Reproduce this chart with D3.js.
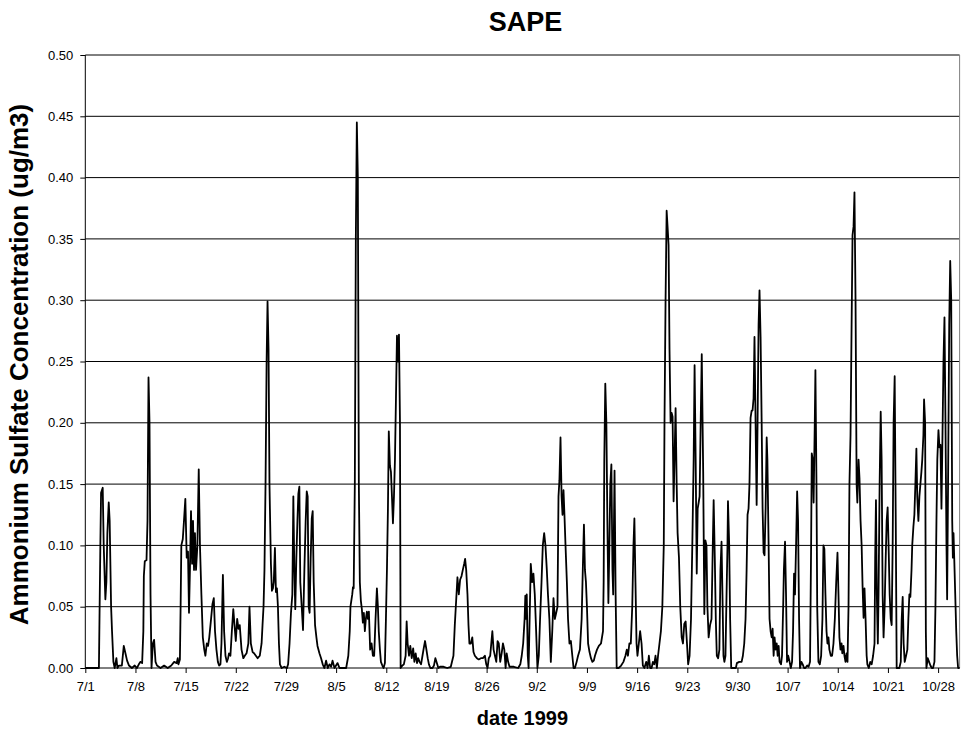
<!DOCTYPE html>
<html>
<head>
<meta charset="utf-8">
<script src="https://cdn.jsdelivr.net/npm/d3@7"></script>
<style>
  html, body { margin: 0; padding: 0; background: #fff; }
  svg { display: block; font-family: "Liberation Sans", Arial, sans-serif; }
</style>
</head>
<body>
<svg id="chart" width="963" height="731"></svg>
<script>
// Ammonium sulfate concentration at SAPE, July–October 1999.
// Time is given in days since 1999-07-01 00:00 (UTC).
const startDate = "1999-07-01";
const endDate = "1999-10-31";

const dayOffset = [
  0, 1.9, 2.1, 2.2, 2.43, 2.57, 2.8, 2.94, 3.08, 3.27, 3.4, 3.6, 3.73, 3.92, 4.1, 4.34, 4.48, 4.7, 5.1, 5.37,
  5.6, 5.83, 6.1, 6.5, 6.9, 7.2, 7.47, 7.7, 7.93, 8.1, 8.17, 8.3, 8.54, 8.68, 8.82, 8.96, 9.1, 9.24, 9.43, 9.6,
  9.8, 10.0, 10.5, 11.0, 11.5, 12.0, 12.4, 12.75, 12.9, 13.0, 13.2, 13.3, 13.4, 13.6, 13.77, 13.96, 14.15, 14.33, 14.47, 14.6,
  14.75, 14.9, 15.03, 15.17, 15.3, 15.45, 15.64, 15.83, 16.0, 16.2, 16.4, 16.6, 16.76, 16.95, 17.13, 17.3, 17.55, 17.74, 17.93, 18.1,
  18.3, 18.5, 18.67, 18.86, 19.0, 19.2, 19.37, 19.56, 19.75, 19.93, 20.05, 20.25, 20.45, 20.65, 20.82, 21.0, 21.19, 21.38, 21.55, 21.8,
  22.05, 22.25, 22.5, 22.75, 22.91, 23.1, 23.35, 23.55, 23.8, 24.05, 24.35, 24.6, 24.73, 24.87, 25.0, 25.15, 25.3, 25.43, 25.57, 25.7,
  25.9, 26.04, 26.18, 26.3, 26.46, 26.6, 26.74, 26.88, 27.02, 27.16, 27.4, 27.77, 28.14, 28.3, 28.5, 28.7, 28.89, 29.03, 29.17, 29.3,
  29.45, 29.6, 29.73, 29.87, 30.0, 30.2, 30.38, 30.57, 30.75, 30.9, 31.03, 31.17, 31.3, 31.45, 31.6, 31.73, 31.87, 32.06, 32.25, 32.4,
  32.67, 32.9, 33.13, 33.37, 33.6, 33.83, 34.07, 34.3, 34.5, 34.77, 35.2, 35.47, 35.9, 36.4, 36.7, 36.9, 37.0, 37.25, 37.35, 37.45,
  37.61, 37.75, 37.89, 38.03, 38.17, 38.31, 38.45, 38.59, 38.73, 38.87, 39.01, 39.15, 39.29, 39.43, 39.57, 39.75, 39.95, 40.13, 40.31, 40.5,
  40.69, 40.83, 40.95, 41.11, 41.25, 41.45, 41.62, 41.81, 41.95, 42.09, 42.23, 42.35, 42.51, 42.65, 42.79, 42.93, 43.07, 43.21, 43.35, 43.49,
  43.63, 43.77, 43.91, 44.0, 44.25, 44.45, 44.7, 44.84, 44.98, 45.17, 45.35, 45.55, 45.75, 45.92, 46.1, 46.29, 46.45, 46.65, 46.85, 47.05,
  47.22, 47.41, 47.6, 47.78, 47.95, 48.15, 48.45, 48.65, 48.85, 49.27, 49.5, 50.0, 50.5, 51.0, 51.37, 51.56, 51.75, 51.93, 52.12, 52.3,
  52.5, 52.68, 52.87, 53.0, 53.15, 53.33, 53.47, 53.6, 53.8, 54.0, 54.17, 54.36, 54.64, 54.9, 55.2, 55.48, 55.76, 55.95, 56.13, 56.3,
  56.5, 56.8, 56.97, 57.16, 57.35, 57.53, 57.7, 57.9, 58.1, 58.28, 58.47, 58.65, 58.8, 59.0, 59.2, 59.8, 60.4, 60.7, 60.9, 61.1,
  61.3, 61.4, 61.5, 61.6, 61.74, 61.86, 62.02, 62.16, 62.36, 62.53, 62.72, 62.91, 63.09, 63.28, 63.46, 63.66, 63.84, 64.03, 64.21, 64.4,
  64.56, 64.76, 64.96, 65.16, 65.33, 65.52, 65.71, 65.89, 66.03, 66.16, 66.31, 66.46, 66.59, 66.73, 66.86, 67.01, 67.2, 67.36, 67.56, 67.76,
  67.96, 68.13, 68.32, 68.56, 68.76, 69.02, 69.26, 69.46, 69.58, 69.72, 69.86, 70.0, 70.16, 70.36, 70.56, 70.76, 70.96, 71.12, 71.4, 71.66,
  71.96, 72.24, 72.33, 72.42, 72.56, 72.71, 72.85, 72.99, 73.13, 73.26, 73.41, 73.56, 73.66, 73.85, 74.0, 74.15, 74.42, 74.77, 75.09, 75.37,
  75.56, 75.72, 75.92, 76.12, 76.32, 76.49, 76.62, 76.77, 76.92, 77.05, 77.24, 77.42, 77.62, 77.8, 78.02, 78.27, 78.46, 78.64, 78.82, 79.02,
  79.2, 79.39, 79.57, 79.76, 79.92, 80.12, 80.32, 80.52, 80.72, 80.82, 80.97, 81.12, 81.25, 81.39, 81.52, 81.67, 81.82, 81.95, 82.09, 82.22,
  82.37, 82.52, 82.65, 82.84, 83.02, 83.22, 83.4, 83.58, 83.77, 83.96, 84.12, 84.32, 84.52, 84.7, 84.89, 85.02, 85.17, 85.32, 85.45, 85.59,
  85.72, 85.87, 86.02, 86.22, 86.38, 86.53, 86.68, 86.81, 86.98, 87.18, 87.38, 87.56, 87.68, 87.84, 87.98, 88.12, 88.31, 88.48, 88.63, 88.78,
  88.91, 89.05, 89.18, 89.33, 89.48, 89.61, 89.68, 89.85, 89.98, 90.13, 90.36, 90.78, 90.92, 91.25, 91.58, 91.76, 91.95, 92.13, 92.28, 92.41,
  92.55, 92.68, 92.83, 92.98, 93.11, 93.25, 93.38, 93.53, 93.68, 93.81, 93.95, 94.08, 94.23, 94.38, 94.51, 94.65, 94.78, 94.93, 95.08, 95.18,
  95.35, 95.48, 95.63, 95.78, 95.91, 96.05, 96.18, 96.33, 96.48, 96.61, 96.75, 96.88, 97.08, 97.22, 97.38, 97.48, 97.64, 97.78, 97.92, 98.08,
  98.28, 98.45, 98.62, 98.76, 98.9, 99.03, 99.18, 99.33, 99.46, 99.6, 99.73, 99.93, 100.11, 100.3, 100.48, 100.73, 100.93, 101.13, 101.28, 101.37,
  101.51, 101.63, 101.79, 101.88, 102.03, 102.13, 102.3, 102.49, 102.68, 102.86, 103.0, 103.13, 103.28, 103.43, 103.56, 103.7, 103.83, 104.03, 104.21, 104.4,
  104.59, 104.78, 104.96, 105.1, 105.23, 105.38, 105.53, 105.63, 105.8, 105.93, 106.08, 106.23, 106.36, 106.5, 106.63, 106.78, 106.93, 107.06, 107.2, 107.33,
  107.48, 107.63, 107.73, 107.9, 108.03, 108.18, 108.33, 108.46, 108.6, 108.73, 108.88, 109.03, 109.13, 109.33, 109.53, 109.73, 109.93, 110.13, 110.22, 110.33,
  110.45, 110.59, 110.69, 110.84, 110.99, 111.12, 111.26, 111.39, 111.54, 111.69, 111.82, 111.96, 112.09, 112.24, 112.39, 112.52, 112.66, 112.79, 112.94, 113.09,
  113.22, 113.39, 113.59, 113.79, 113.92, 114.06, 114.19, 114.34, 114.53, 114.71, 114.85, 114.99, 115.13, 115.29, 115.39, 115.55, 115.69, 115.83, 115.97, 116.09,
  116.25, 116.39, 116.53, 116.67, 116.79, 116.95, 117.04, 117.19, 117.29, 117.37, 117.56, 117.74, 117.93, 118.12, 118.29, 118.49, 118.63, 118.77, 118.89, 119.05,
  119.19, 119.33, 119.47, 119.59, 119.75, 119.89, 120.03, 120.17, 120.26, 120.39, 120.55, 120.69, 120.83, 120.97, 121.06, 121.15, 121.25, 121.39, 121.53, 121.66,
  121.79, 122.0
];

const sulfate = [
  0, 0, 0.10, 0.143, 0.147, 0.10, 0.056, 0.07, 0.11, 0.135, 0.12, 0.05, 0.03, 0.005, 0, 0.008, 0, 0.002, 0.002, 0.018,
  0.012, 0.006, 0.002, 0, 0.002, 0, 0.003, 0.005, 0.004, 0.03, 0.075, 0.087, 0.088, 0.12, 0.237, 0.20, 0.06, 0, 0.02, 0.023,
  0.005, 0.002, 0, 0.002, 0, 0.002, 0.005, 0.004, 0.008, 0.003, 0.007, 0.05, 0.10, 0.105, 0.12, 0.138, 0.09, 0.095, 0.045, 0.08,
  0.128, 0.085, 0.12, 0.08, 0.11, 0.08, 0.10, 0.162, 0.10, 0.06, 0.025, 0.015, 0.01, 0.02, 0.018, 0.025, 0.04, 0.052, 0.057, 0.03,
  0.015, 0.005, 0.002, 0.003, 0.02, 0.076, 0.03, 0.01, 0.005, 0.008, 0.012, 0.01, 0.03, 0.048, 0.035, 0.022, 0.04, 0.032, 0.035, 0.015,
  0.008, 0.01, 0.012, 0.02, 0.05, 0.02, 0.013, 0.012, 0.01, 0.008, 0.01, 0.02, 0.035, 0.05, 0.08, 0.15, 0.25, 0.299, 0.26, 0.15,
  0.085, 0.063, 0.065, 0.07, 0.098, 0.062, 0.065, 0.05, 0.02, 0.003, 0, 0.001, 0, 0.003, 0.02, 0.045, 0.06, 0.14, 0.08, 0.048,
  0.09, 0.12, 0.142, 0.148, 0.07, 0.05, 0.031, 0.08, 0.12, 0.144, 0.14, 0.05, 0.045, 0.09, 0.122, 0.128, 0.07, 0.035, 0.025, 0.018,
  0.012, 0.008, 0.003, 0, 0.006, 0, 0.003, 0.001, 0.006, 0, 0.004, 0, 0, 0, 0.01, 0.03, 0.05, 0.06, 0.066, 0.065,
  0.15, 0.35, 0.445, 0.40, 0.15, 0.07, 0.055, 0.048, 0.037, 0.045, 0.03, 0.04, 0.046, 0.04, 0.046, 0.015, 0.02, 0.01, 0.01, 0.04,
  0.065, 0.05, 0.03, 0.015, 0.005, 0.002, 0, 0.004, 0.04, 0.08, 0.13, 0.193, 0.165, 0.16, 0.14, 0.118, 0.14, 0.17, 0.22, 0.271,
  0.25, 0.272, 0.20, 0, 0.002, 0.003, 0.01, 0.038, 0.02, 0.01, 0.018, 0.008, 0.016, 0.005, 0.012, 0.004, 0.008, 0.005, 0.003, 0.01,
  0.016, 0.022, 0.015, 0.008, 0.003, 0, 0, 0.002, 0.008, 0, 0.001, 0.001, 0, 0.001, 0.01, 0.035, 0.055, 0.074, 0.06, 0.072,
  0.075, 0.08, 0.085, 0.089, 0.08, 0.06, 0.035, 0.02, 0.02, 0.025, 0.013, 0.01, 0.008, 0.007, 0.008, 0.008, 0.01, 0.003, 0, 0.008,
  0.01, 0.03, 0.015, 0.01, 0.005, 0.022, 0.02, 0.005, 0.012, 0.02, 0.015, 0, 0.012, 0.005, 0.001, 0.001, 0, 0.003, 0.01, 0.02,
  0.04, 0.059, 0.04, 0.06, 0.01, 0, 0.045, 0.085, 0.07, 0.077, 0.06, 0.03, 0, 0.01, 0.04, 0.07, 0.1, 0.11, 0.1, 0.08,
  0.06, 0.04, 0.005, 0.03, 0.057, 0.04, 0.045, 0.05, 0.14, 0.153, 0.188, 0.14, 0.125, 0.145, 0.125, 0.1, 0.07, 0.04, 0.02, 0.022,
  0.01, 0, 0, 0.005, 0.01, 0.015, 0.04, 0.09, 0.117, 0.08, 0.07, 0.05, 0.02, 0.013, 0.008, 0.005, 0.006, 0.01, 0.015, 0.018,
  0.02, 0.03, 0.07, 0.17, 0.232, 0.2, 0.12, 0.053, 0.1, 0.15, 0.166, 0.08, 0.06, 0.161, 0.06, 0, 0, 0.002, 0.005, 0.01,
  0.015, 0.01, 0.02, 0.02, 0.05, 0.1, 0.122, 0.07, 0.02, 0.01, 0.02, 0.03, 0.02, 0.002, 0, 0.005, 0, 0.01, 0, 0,
  0.005, 0.003, 0.01, 0, 0.01, 0.02, 0.03, 0.05, 0.1, 0.2, 0.3, 0.373, 0.36, 0.345, 0.26, 0.2, 0.208, 0.205, 0.136, 0.17,
  0.212, 0.15, 0.11, 0.09, 0.05, 0.025, 0.02, 0.036, 0.038, 0.02, 0.003, 0.01, 0.04, 0.1, 0.17, 0.247, 0.17, 0.077, 0.13, 0.135,
  0.14, 0.2, 0.256, 0.16, 0.044, 0.104, 0.1, 0.05, 0.025, 0.035, 0.04, 0.1, 0.137, 0.09, 0.04, 0.01, 0.008, 0.015, 0.08, 0.103,
  0.06, 0.01, 0.005, 0.01, 0.06, 0.1, 0.136, 0.1, 0.04, 0, 0, 0, 0.004, 0.005, 0.005, 0.01, 0.02, 0.04, 0.08, 0.125,
  0.13, 0.15, 0.204, 0.21, 0.21, 0.22, 0.27, 0.2, 0.133, 0.2, 0.28, 0.308, 0.27, 0.2, 0.13, 0.094, 0.092, 0.13, 0.188, 0.17,
  0.1, 0.04, 0.03, 0.025, 0.032, 0.01, 0.025, 0.015, 0.02, 0.01, 0.018, 0.005, 0.003, 0.01, 0.05, 0.08, 0.103, 0.06, 0.005, 0.01,
  0.005, 0, 0.005, 0.03, 0.077, 0.06, 0.1, 0.144, 0.12, 0.04, 0, 0.005, 0.003, 0, 0, 0.002, 0.001, 0.005, 0.1, 0.175,
  0.17, 0.135, 0.2, 0.243, 0.15, 0.05, 0.005, 0.003, 0.01, 0.04, 0.1, 0.097, 0.06, 0.03, 0.02, 0.025, 0.015, 0.01, 0.01, 0.02,
  0.04, 0.07, 0.094, 0.06, 0.025, 0.015, 0.02, 0.012, 0.018, 0.01, 0.005, 0.012, 0.005, 0.05, 0.15, 0.19, 0.28, 0.353, 0.36, 0.388,
  0.3, 0.15, 0.135, 0.17, 0.155, 0.12, 0.1, 0.067, 0.041, 0.065, 0.04, 0.01, 0.003, 0, 0.005, 0.003, 0.01, 0.02, 0.09, 0.137,
  0.06, 0.02, 0.06, 0.15, 0.209, 0.17, 0.06, 0.025, 0.05, 0.09, 0.12, 0.131, 0.1, 0.06, 0.04, 0.035, 0.1, 0.2, 0.238, 0.12,
  0, 0, 0, 0.005, 0.04, 0.058, 0.02, 0.005, 0.01, 0.015, 0.04, 0.06, 0.058, 0.08, 0.1, 0.115, 0.125, 0.15, 0.179, 0.14,
  0.12, 0.14, 0.15, 0.16, 0.17, 0.19, 0.219, 0.2, 0.03, 0, 0.008, 0.005, 0.002, 0, 0, 0.005, 0.05, 0.12, 0.17, 0.194,
  0.18, 0.182, 0.13, 0.18, 0.25, 0.286, 0.2, 0.1, 0.056, 0.15, 0.28, 0.332, 0.3, 0.12, 0.09, 0.11, 0.09, 0.06, 0.03, 0.01,
  0, 0
];

const xTickLabels = ["7/1", "7/8", "7/15", "7/22", "7/29", "8/5", "8/12", "8/19", "8/26",
  "9/2", "9/9", "9/16", "9/23", "9/30", "10/7", "10/14", "10/21", "10/28"];
const yTickValues = [0, 0.05, 0.10, 0.15, 0.20, 0.25, 0.30, 0.35, 0.40, 0.45, 0.50];

const titleText = "SAPE";
const xTitle = "date 1999";
const yTitle = "Ammonium Sulfate Concentration (ug/m3)";

// ---- layout ----
const plot = { left: 85.3, right: 959.6, top: 55, bottom: 668 };
const svg = d3.select("#chart");

const t0 = d3.utcParse("%Y-%m-%d")(startDate);
const t1 = d3.utcParse("%Y-%m-%d")(endDate);
const x = d3.scaleUtc().domain([t0, t1]).range([plot.left, plot.right]);
const y = d3.scaleLinear().domain([0, 0.5]).range([plot.bottom, plot.top]);

const series = dayOffset.map((d, i) => ({
  date: d3.utcMinute.offset(t0, Math.round(d * 1440)),
  value: sulfate[i]
}));

const tickDates = xTickLabels.map(s => {
  const [m, d] = s.split("/").map(Number);
  return new Date(Date.UTC(1999, m - 1, d));
});

// horizontal gridlines
svg.append("g")
  .selectAll("line")
  .data(yTickValues.filter(v => v > 0))
  .join("line")
  .attr("x1", plot.left).attr("x2", plot.right)
  .attr("y1", d => y(d)).attr("y2", d => y(d))
  .attr("stroke", "#000").attr("stroke-width", 1);

// plot-area frame on the right
svg.append("line")
  .attr("x1", plot.right).attr("x2", plot.right)
  .attr("y1", plot.top).attr("y2", plot.bottom)
  .attr("stroke", "#808080").attr("stroke-width", 1);

// the concentration trace
const line = d3.line()
  .x(d => x(d.date))
  .y(d => y(d.value));

svg.append("path")
  .datum(series)
  .attr("fill", "none")
  .attr("stroke", "#000")
  .attr("stroke-width", 1.8)
  .attr("stroke-linejoin", "round")
  .attr("d", line);

// y axis
const yAxis = d3.axisLeft(y)
  .tickValues(yTickValues)
  .tickFormat(d3.format(".2f"))
  .tickSize(5)
  .tickPadding(7);

const gy = svg.append("g")
  .attr("transform", `translate(${plot.left},0)`)
  .call(yAxis);
gy.select(".domain").attr("stroke", "#000").attr("d", `M0,${plot.top}V${plot.bottom}`);
gy.selectAll(".tick line").attr("stroke", "#000");
gy.selectAll("text")
  .attr("font-size", 13)
  .attr("font-family", "Liberation Sans, Arial, sans-serif")
  .attr("fill", "#000");

// x axis
const xAxis = d3.axisBottom(x)
  .tickValues(tickDates)
  .tickFormat((d, i) => xTickLabels[i])
  .tickSize(5)
  .tickPadding(9);

const gx = svg.append("g")
  .attr("transform", `translate(0,${plot.bottom})`)
  .call(xAxis);
gx.select(".domain").attr("stroke", "#000").attr("d", `M${plot.left},0H${plot.right}`);
gx.selectAll(".tick line").attr("stroke", "#000");
gx.selectAll("text")
  .attr("font-size", 13)
  .attr("font-family", "Liberation Sans, Arial, sans-serif")
  .attr("fill", "#000");

// titles
svg.append("text")
  .attr("x", (plot.left + plot.right) / 2 + 3)
  .attr("y", 31)
  .attr("text-anchor", "middle")
  .attr("font-size", 27)
  .attr("font-weight", "bold")
  .text(titleText);

svg.append("text")
  .attr("x", (plot.left + plot.right) / 2)
  .attr("y", 725)
  .attr("text-anchor", "middle")
  .attr("font-size", 20)
  .attr("font-weight", "bold")
  .text(xTitle);

svg.append("text")
  .attr("transform", `translate(28,${(plot.top + plot.bottom) / 2 + 3}) rotate(-90)`)
  .attr("text-anchor", "middle")
  .attr("font-size", 26)
  .attr("font-weight", "bold")
  .text(yTitle);
</script>
</body>
</html>
